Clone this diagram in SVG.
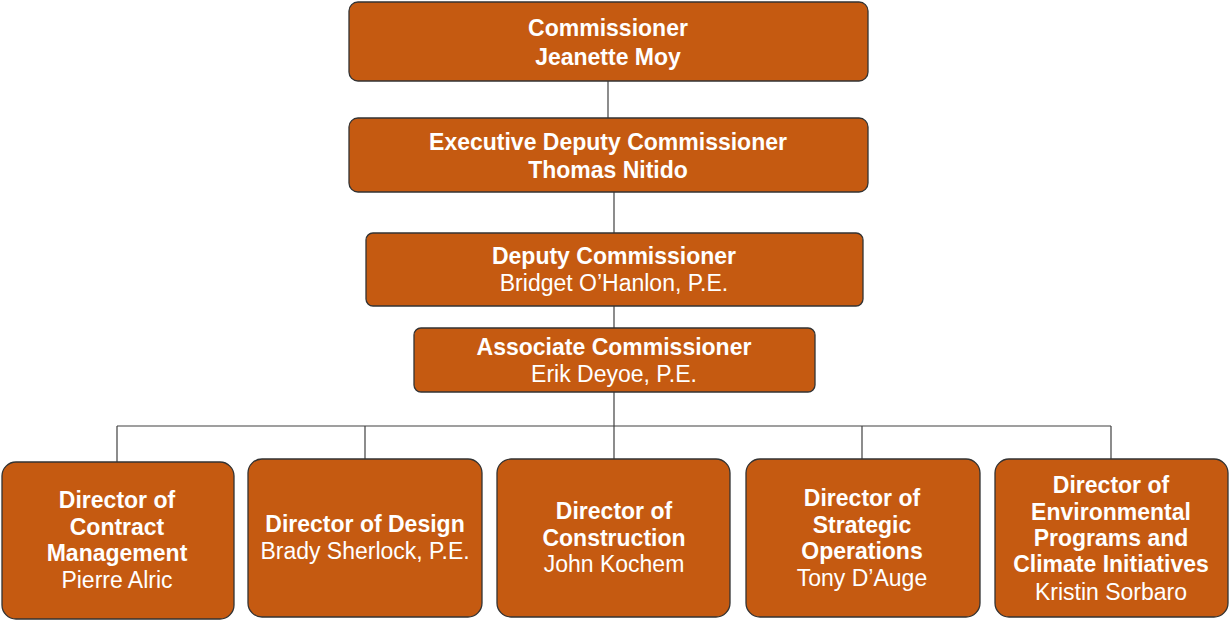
<svg xmlns="http://www.w3.org/2000/svg" width="1229" height="621" viewBox="0 0 1229 621">
<style>
.box{fill:#C55A11;stroke:#333333;stroke-width:1.3}
.t{font-family:"Liberation Sans",Arial,sans-serif;font-size:23px;fill:#ffffff;text-anchor:middle}
.b{font-weight:bold}
.ln{stroke:#404040;stroke-width:1.2;fill:none}
</style>
<rect width="1229" height="621" fill="#ffffff"/>
<g id="connectors">
<line class="ln" x1="608" y1="81" x2="608" y2="118"/>
<line class="ln" x1="614" y1="192" x2="614" y2="233"/>
<line class="ln" x1="614" y1="306" x2="614" y2="328"/>
<line class="ln" x1="614" y1="392" x2="614" y2="426"/>
<line class="ln" x1="117" y1="426" x2="1111" y2="426"/>
<line class="ln" x1="117" y1="426" x2="117" y2="462"/>
<line class="ln" x1="365" y1="426" x2="365" y2="459"/>
<line class="ln" x1="614" y1="426" x2="614" y2="459"/>
<line class="ln" x1="862" y1="426" x2="862" y2="459"/>
<line class="ln" x1="1111" y1="426" x2="1111" y2="459"/>
</g>
<g id="commissioner">
<rect class="box" x="349" y="2" width="519" height="79" rx="9"/>
<text class="t b" x="608" y="36">Commissioner</text>
<text class="t b" x="608" y="65">Jeanette Moy</text>
</g>
<g id="exec-deputy">
<rect class="box" x="349" y="118" width="519" height="74" rx="9"/>
<text class="t b" x="608" y="150">Executive Deputy Commissioner</text>
<text class="t b" x="608" y="178">Thomas Nitido</text>
</g>
<g id="deputy">
<rect class="box" x="366" y="233" width="497" height="73" rx="7"/>
<text class="t b" x="614" y="264">Deputy Commissioner</text>
<text class="t" x="614" y="291">Bridget O’Hanlon, P.E.</text>
</g>
<g id="associate">
<rect class="box" x="414" y="328" width="401" height="64" rx="7"/>
<text class="t b" x="614" y="355">Associate Commissioner</text>
<text class="t" x="614" y="382">Erik Deyoe, P.E.</text>
</g>
<g id="contract">
<rect class="box" x="2" y="462" width="232" height="157" rx="14"/>
<text class="t b" x="117" y="508">Director of</text>
<text class="t b" x="117" y="535">Contract</text>
<text class="t b" x="117" y="561">Management</text>
<text class="t" x="117" y="588">Pierre Alric</text>
</g>
<g id="design">
<rect class="box" x="248" y="459" width="234" height="158" rx="14"/>
<text class="t b" x="365" y="532">Director of Design</text>
<text class="t" x="365" y="559">Brady Sherlock, P.E.</text>
</g>
<g id="construction">
<rect class="box" x="497" y="459" width="233" height="158" rx="14"/>
<text class="t b" x="614" y="519">Director of</text>
<text class="t b" x="614" y="546">Construction</text>
<text class="t" x="614" y="572">John Kochem</text>
</g>
<g id="strategic">
<rect class="box" x="746" y="459" width="234" height="158" rx="14"/>
<text class="t b" x="862" y="506">Director of</text>
<text class="t b" x="862" y="533">Strategic</text>
<text class="t b" x="862" y="559">Operations</text>
<text class="t" x="862" y="586">Tony D’Auge</text>
</g>
<g id="environmental">
<rect class="box" x="995" y="459" width="233" height="158" rx="14"/>
<text class="t b" x="1111" y="493">Director of</text>
<text class="t b" x="1111" y="520">Environmental</text>
<text class="t b" x="1111" y="546">Programs and</text>
<text class="t b" x="1111" y="572">Climate Initiatives</text>
<text class="t" x="1111" y="600">Kristin Sorbaro</text>
</g>
</svg>
